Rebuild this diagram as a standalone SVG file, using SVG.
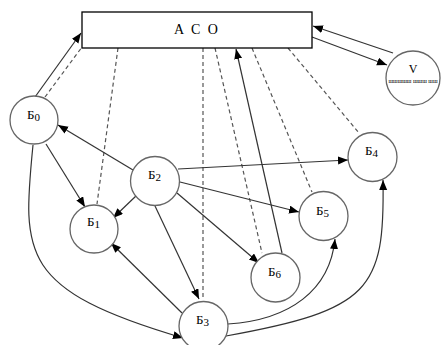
<svg xmlns="http://www.w3.org/2000/svg" width="441" height="345" viewBox="0 0 441 345">
<defs>
<marker id="ah" markerUnits="userSpaceOnUse" markerWidth="11" markerHeight="9" refX="10" refY="4" orient="auto">
<path d="M0,0 L10,4 L0,8 z" fill="#000"/>
</marker>
<style>
.n{fill:#fff;stroke:#666;stroke-width:1.3}
.l{font-family:"Liberation Serif",serif;font-size:13px;fill:#000}
.s{font-size:11px}
.c{fill:none;stroke:#333;stroke-width:1.2}
.a{marker-end:url(#ah)}
.d{fill:none;stroke:#555;stroke-width:1.2;stroke-dasharray:4 3}
</style>
</defs>
<rect width="441" height="345" fill="#fff"/>
<g id="connectors">
<line class="c a" x1="35" y1="97" x2="81" y2="33"/>
<line class="d" x1="45" y1="97" x2="82" y2="47"/>
<line class="d" x1="118" y1="48" x2="97" y2="204"/>
<line class="d" x1="203" y1="48" x2="203" y2="300"/>
<line class="d" x1="215" y1="48" x2="262" y2="253"/>
<line class="d" x1="252" y1="48" x2="312" y2="192"/>
<line class="d" x1="288" y1="48" x2="359" y2="133"/>
<line class="c a" x1="282" y1="253" x2="236" y2="49"/>
<line class="c a" x1="393" y1="53" x2="313" y2="26"/>
<line class="c a" x1="312" y1="37" x2="387" y2="65"/>
<line class="c a" x1="133" y1="170" x2="58" y2="125"/>
<line class="c a" x1="137" y1="195" x2="113" y2="218"/>
<line class="c a" x1="155" y1="206" x2="199" y2="299"/>
<line class="c a" x1="178" y1="169" x2="348" y2="160"/>
<line class="c a" x1="180" y1="182" x2="299" y2="212"/>
<line class="c a" x1="177" y1="193" x2="259" y2="263"/>
<line class="c a" x1="46" y1="144" x2="85" y2="207"/>
<line class="c a" x1="182" y1="313" x2="111" y2="243"/>
<path class="c a" d="M33,145 C22,255 20,290 183,338"/>
<path class="c a" d="M228,324 C290,320 330,290 335,239"/>
<path class="c a" d="M226,336 C370,310 385,290 383,180"/>
</g>
<g id="ACO">
<rect x="82" y="12" width="230" height="36" fill="#fff" stroke="#000" stroke-width="1.3"/>
<text x="197" y="34" text-anchor="middle" font-family="Liberation Serif,serif" font-size="14" letter-spacing="2">A C O</text>
</g>
<g id="V">
<circle class="n" cx="413" cy="78" r="27"/>
<text x="413" y="73" text-anchor="middle" font-family="Liberation Serif,serif" font-size="12">V</text>
<text x="413" y="83" text-anchor="middle" font-family="Liberation Serif,serif" font-size="6">шшшшш шшш шш</text>
</g>
<g id="B0"><circle class="n" cx="34" cy="120" r="24"/><text class="l" x="27" y="119">Б<tspan class="s" dy="2">0</tspan></text></g>
<g id="B1"><circle class="n" cx="94" cy="229" r="24"/><text class="l" x="87" y="226">Б<tspan class="s" dy="2">1</tspan></text></g>
<g id="B2"><circle class="n" cx="155" cy="181" r="24.5"/><text class="l" x="148" y="179">Б<tspan class="s" dy="2">2</tspan></text></g>
<g id="B3"><circle class="n" cx="203.5" cy="326" r="24.5"/><text class="l" x="196" y="324">Б<tspan class="s" dy="2">3</tspan></text></g>
<g id="B4"><circle class="n" cx="372.5" cy="157" r="24.5"/><text class="l" x="365" y="155">Б<tspan class="s" dy="2">4</tspan></text></g>
<g id="B5"><circle class="n" cx="323.5" cy="216" r="24.5"/><text class="l" x="316" y="215">Б<tspan class="s" dy="2">5</tspan></text></g>
<g id="B6"><circle class="n" cx="275.5" cy="277.5" r="24.5"/><text class="l" x="268" y="276">Б<tspan class="s" dy="2">6</tspan></text></g>
</svg>
